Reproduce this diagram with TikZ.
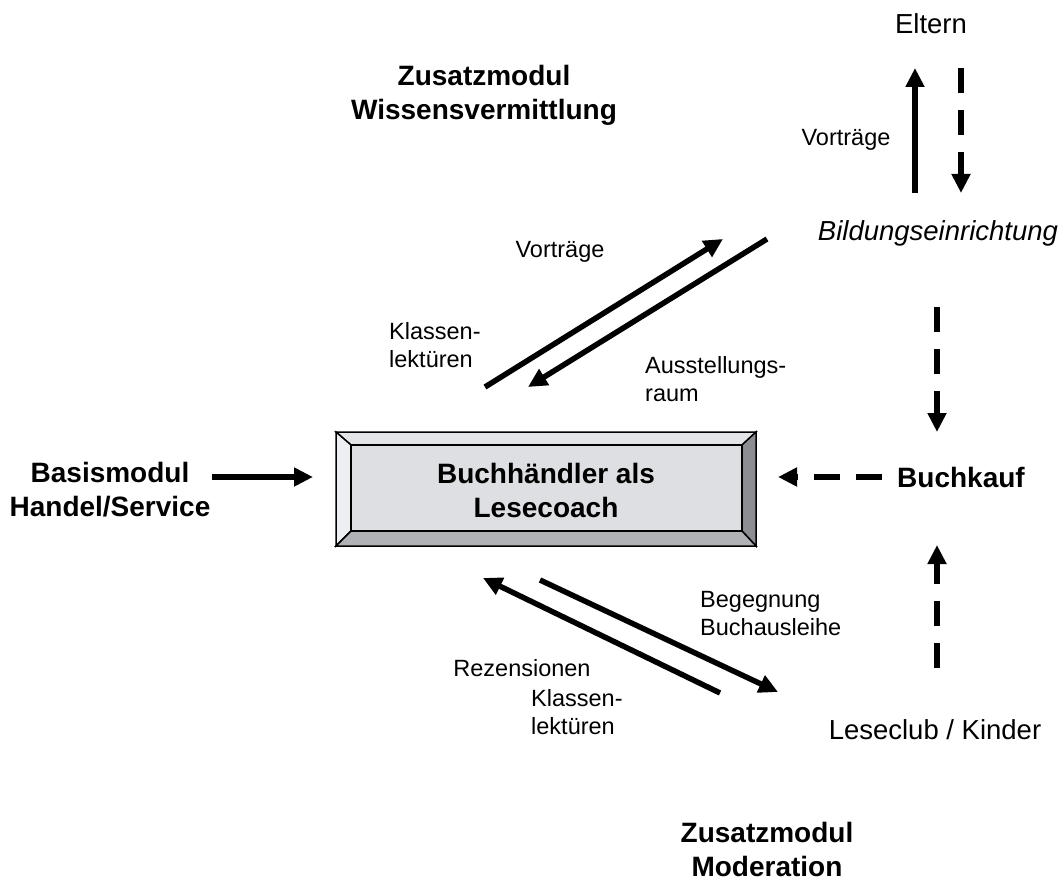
\documentclass[tikz,border=0pt]{standalone}
\usepackage{fontspec}
\setmainfont{Liberation Sans}
\usetikzlibrary{arrows.meta}
\definecolor{coachface}{RGB}{222,223,226}
\definecolor{bevelleft}{RGB}{238,239,242}
\definecolor{beveltop}{RGB}{228,229,232}
\definecolor{bevelright}{RGB}{140,142,147}
\definecolor{bevelbottom}{RGB}{176,178,182}

\begin{document}
\begin{tikzpicture}[x=1pt, y=-1pt, >={Triangle[length=19pt,width=18pt]},
  modul/.style={font=\fontsize{28}{34}\selectfont\bfseries, align=center, inner sep=0pt},
  ort/.style={font=\fontsize{27.5}{32}\selectfont, inner sep=0pt},
  lbl/.style={font=\fontsize{23.5}{28}\selectfont, align=left, inner sep=0pt},
  flow/.style={->, line width=5.5pt},
  flowdash/.style={->, line width=6pt, dash pattern=on 25pt off 17pt}]

\useasboundingbox (0,0) rectangle (1061,880);

% bevelled box in the middle
\filldraw[line width=1.5pt, fill=beveltop] (336,432) -- (756,432) -- (742,445) -- (351,445) -- cycle;
\filldraw[line width=1.5pt, fill=bevelleft] (336,432) -- (351,445) -- (351,531) -- (336,546) -- cycle;
\filldraw[line width=1.5pt, fill=bevelright] (756,432) -- (756,546) -- (742,531) -- (742,445) -- cycle;
\filldraw[line width=1.5pt, fill=bevelbottom] (336,546) -- (756,546) -- (742,531) -- (351,531) -- cycle;
\filldraw[line width=1.5pt, fill=coachface] (351,445) rectangle (742,531);
\node[modul] (coach) at (546,490) {Buchhändler als\\Lesecoach};

% modules
\node[modul] (wissen) at (484,95) {Zusatzmodul\\Wissensvermittlung};
\node[modul] (basis) at (110,490) {Basismodul\\Handel/Service};
\node[modul] (moder) at (767,849) {Zusatzmodul\\Moderation};
\node[modul] (kauf) at (961,477) {Buchkauf};

% places
\node[ort] (eltern) at (931,24) {Eltern};
\node[ort] (bildung) at (938,233) {\itshape Bildungseinrichtung};
\node[ort] (leseclub) at (935,730) {Leseclub / Kinder};

% labels
\node[lbl] (vortrL) at (560,252) {Vorträge};
\node[lbl] (vortrR) at (846,140) {Vorträge};
\node[lbl, anchor=west] (klassO) at (389,345) {Klassen-\\lektüren};
\node[lbl, anchor=west] (ausst) at (645,379) {Ausstellungs-\\raum};
\node[lbl, anchor=west] (begeg) at (700,614) {Begegnung\\Buchausleihe};
\node[lbl] (rezens) at (522,668) {Rezensionen};
\node[lbl, anchor=west] (klassU) at (531,712) {Klassen-\\lektüren};

% arrow ends
\coordinate (e1a) at (915,193);
\coordinate (e1b) at (915,68);
\coordinate (e2a) at (961,68);
\coordinate (e2b) at (961,193);
\coordinate (d1a) at (485,387);
\coordinate (d1b) at (723,239);
\coordinate (d2a) at (767,239);
\coordinate (d2b) at (528,387);
\coordinate (b1a) at (212,477);
\coordinate (b1b) at (313,477);
\coordinate (k1a) at (882,477);
\coordinate (k1b) at (778,477);
\coordinate (v1a) at (937,307);
\coordinate (v1b) at (937,432);
\coordinate (v2a) at (937,668);
\coordinate (v2b) at (937,545);
\coordinate (u1a) at (720,693);
\coordinate (u1b) at (483,578);
\coordinate (u2a) at (540,580);
\coordinate (u2b) at (778,692);

\draw[flow] (e1a) -- (e1b);
\draw[flowdash] (e2a) -- (e2b);
\draw[flow] (d1a) -- (d1b);
\draw[flow] (d2a) -- (d2b);
\draw[flow] (b1a) -- (b1b);
\draw[flowdash, dash pattern=on 26pt off 16pt] (k1a) -- (k1b);
\draw[flowdash] (v1a) -- (v1b);
\draw[flowdash] (v2a) -- (v2b);
\draw[flow] (u1a) -- (u1b);
\draw[flow] (u2a) -- (u2b);
\end{tikzpicture}
\end{document}
